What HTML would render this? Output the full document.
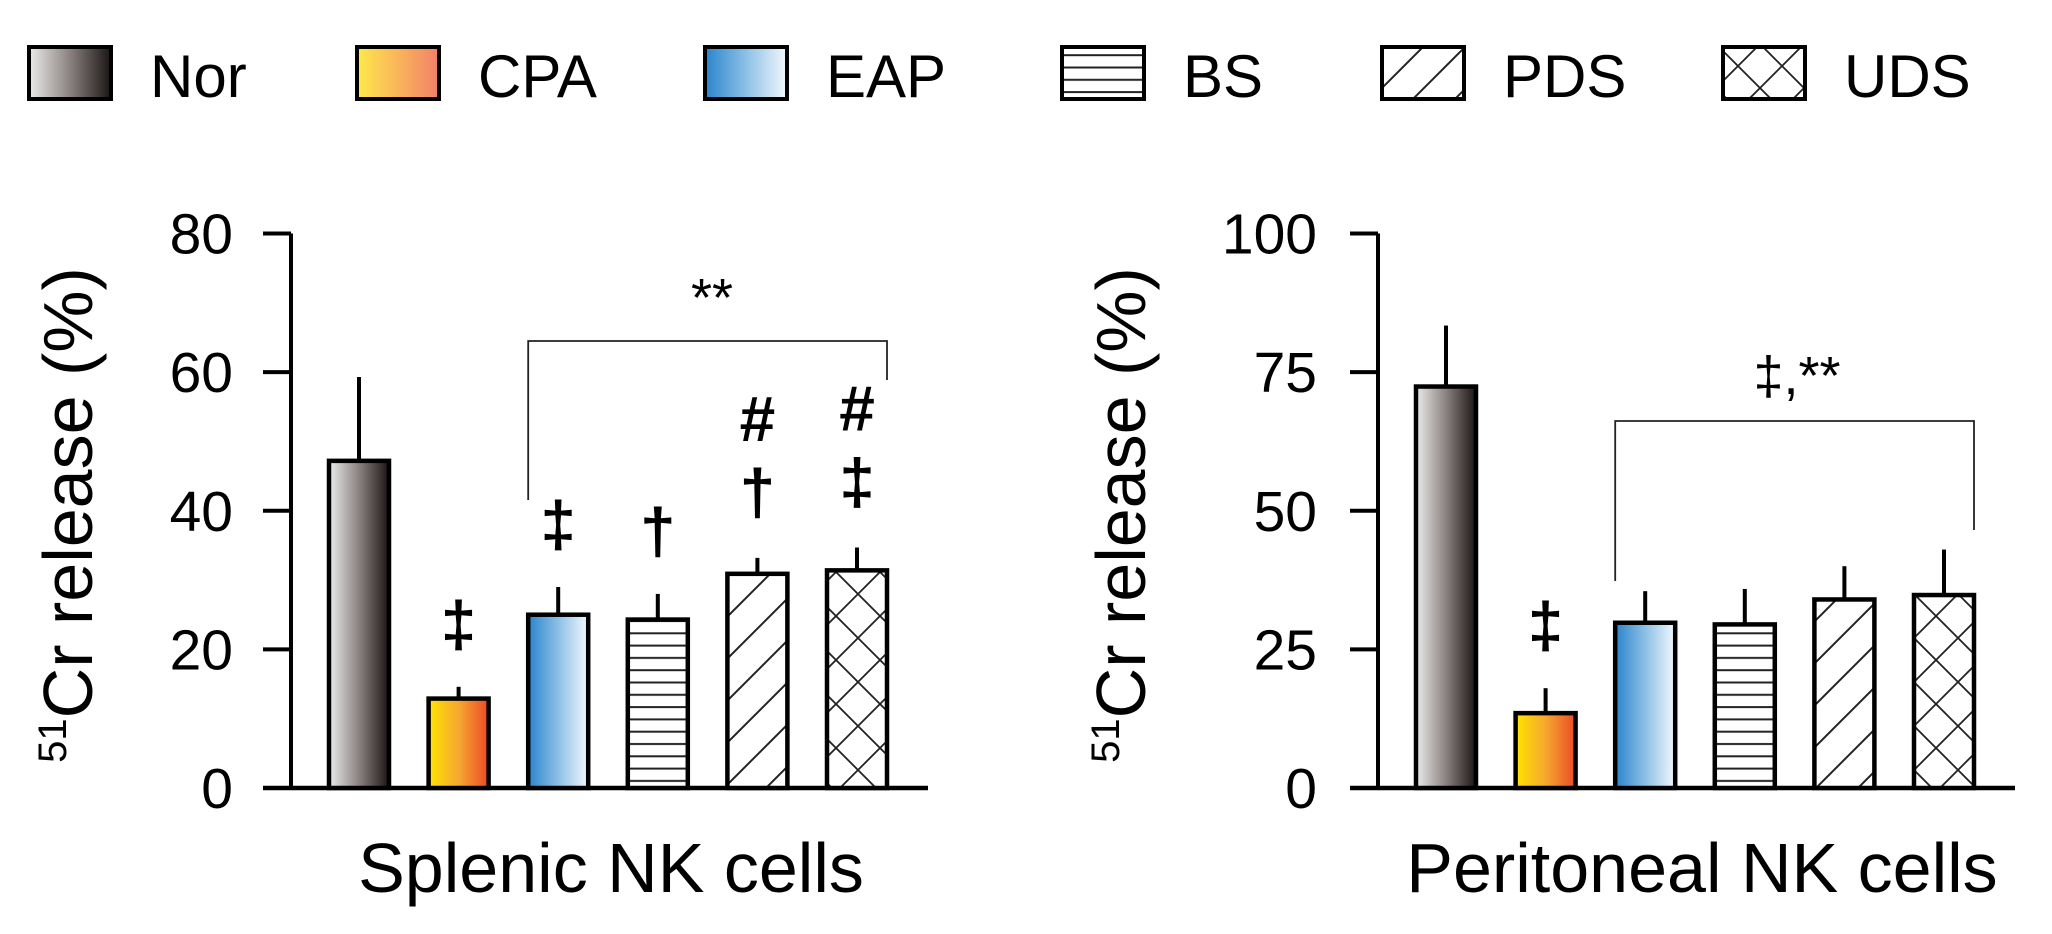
<!DOCTYPE html>
<html><head><meta charset="utf-8"><style>
html,body{margin:0;padding:0;background:#fff;}
svg{display:block;font-family:"Liberation Sans",Arial,sans-serif;}
</style></head><body>
<svg id="fig" width="2052" height="934" viewBox="0 0 2052 934" xmlns="http://www.w3.org/2000/svg">
<defs>
<linearGradient id="gNor" x1="0" x2="1" y1="0" y2="0"><stop offset="0" stop-color="#ececec"/><stop offset="0.5" stop-color="#8a8280"/><stop offset="1" stop-color="#1a1414"/></linearGradient>
<linearGradient id="gCPA" x1="0" x2="1" y1="0" y2="0"><stop offset="0" stop-color="#ffe400"/><stop offset="0.5" stop-color="#f5a830"/><stop offset="1" stop-color="#ec4a25"/></linearGradient>
<linearGradient id="gCPAl" x1="0" x2="1" y1="0" y2="0"><stop offset="0" stop-color="#ffe94a"/><stop offset="1" stop-color="#f3806a"/></linearGradient>
<linearGradient id="gEAP" x1="0" x2="1" y1="0" y2="0"><stop offset="0" stop-color="#2a84cc"/><stop offset="0.5" stop-color="#8cc0e6"/><stop offset="1" stop-color="#f2f8fd"/></linearGradient>
<pattern id="pBS" width="12.3" height="12.3" patternUnits="userSpaceOnUse"><rect width="12.3" height="12.3" fill="#fff"/><line x1="0" y1="6" x2="13" y2="6" stroke="#222" stroke-width="2"/></pattern>
<pattern id="pPDS" width="42" height="42" patternUnits="userSpaceOnUse"><rect width="42" height="42" fill="#fff"/><line x1="0" y1="42" x2="42" y2="0" stroke="#222" stroke-width="2"/><line x1="-10" y1="10" x2="10" y2="-10" stroke="#222" stroke-width="2"/><line x1="32" y1="52" x2="52" y2="32" stroke="#222" stroke-width="2"/></pattern>
<pattern id="pUDS" width="44" height="44" patternUnits="userSpaceOnUse"><rect width="44" height="44" fill="#fff"/><line x1="0" y1="44" x2="44" y2="0" stroke="#222" stroke-width="1.8"/><line x1="0" y1="0" x2="44" y2="44" stroke="#222" stroke-width="1.8"/></pattern>
</defs>
<g id="legend"></g>
<g id="chart1"></g>
<g id="chart2"></g>
</svg>
<script>
const groups = ["Nor","CPA","EAP","BS","PDS","UDS"];
const fills = ["url(#gNor)","url(#gCPA)","url(#gEAP)","url(#pBS)","url(#pPDS)","url(#pUDS)"];
const legendFills = ["url(#gNor)","url(#gCPAl)","url(#gEAP)","url(#pBS)","url(#pPDS)","url(#pUDS)"];
const splenicMeans = [47.2, 12.9, 25.0, 24.3, 30.9, 31.4];
const splenicErrs = [59.3, 14.6, 29.0, 28.0, 33.2, 34.7];
const splenicTicks = [0, 20, 40, 60, 80];
const splenicMarks = [[], ["‡"], ["‡"], ["†"], ["#","†"], ["#","‡"]];
const peritonealMeans = [72.4, 13.5, 29.8, 29.5, 34.0, 34.8];
const peritonealErrs = [83.4, 18.0, 35.5, 35.9, 40.0, 43.0];
const peritonealTicks = [0, 25, 50, 75, 100];
const peritonealMarks = [[], ["‡"], [], [], [], []];

const NS = "http://www.w3.org/2000/svg";
function mk(tag, attrs, parent, text){
  const e = document.createElementNS(NS, tag);
  for (const k in attrs) e.setAttribute(k, attrs[k]);
  if (text !== undefined) e.textContent = text;
  parent.appendChild(e); return e;
}

// legend
const lg = document.getElementById('legend');
const legX = [29, 357, 705, 1062, 1382, 1723];
groups.forEach((g, i) => {
  const r = mk('rect', {x: legX[i], y: 47, width: 82, height: 52, fill: legendFills[i], stroke: '#000', 'stroke-width': 4}, lg);
  
  
  const t = mk('text', {x: legX[i] + 121, y: 97, 'font-size': 60}, lg, g);
  
  
});

function drawChart(gid, cfg){
  const g = document.getElementById(gid);
  const y = v => cfg.y0 - (v / cfg.ymax) * (cfg.y0 - cfg.ytop);
  const cx = i => cfg.x0 + i * 99.6;
  const ya = mk('line', {x1: cfg.ax, y1: cfg.ytop, x2: cfg.ax, y2: cfg.y0, stroke: '#000', 'stroke-width': 4}, g);
   
  cfg.ticks.forEach(t => {
    const tl = mk('line', {x1: cfg.ax - 28, y1: y(t), x2: cfg.ax, y2: y(t), stroke: '#000', 'stroke-width': 4}, g);
     
    const tt = mk('text', {x: cfg.tlx, y: y(t) + 20, 'font-size': 57, 'text-anchor': 'end'}, g, String(t));
     
  });
  const xa = mk('line', {x1: cfg.ax - 28, y1: cfg.y0, x2: cfg.xend, y2: cfg.y0, stroke: '#000', 'stroke-width': 4.5}, g);
   
  cfg.means.forEach((m, i) => {
    const c = cx(i);
    const el = mk('line', {x1: c, y1: y(cfg.errs[i]), x2: c, y2: y(m), stroke: '#000', 'stroke-width': 4}, g);
     
    const b = mk('rect', {x: c - 30, y: y(m), width: 60, height: cfg.y0 - y(m), fill: fills[i], stroke: '#000', 'stroke-width': 4.5}, g);
     
    const n = cfg.marks[i].length;
    cfg.marks[i].forEach((s, k) => {
      const centre = (n === 1) ? y(cfg.errs[i]) - 58 : y(cfg.errs[i]) - 61 - (n - 1 - k) * 78;
      const off = (s === '#') ? 22 : 17;
      const st = mk('text', {x: c, y: centre + off, 'font-size': 64, 'font-weight': 'bold', 'text-anchor': 'middle'}, g, s);
       
    });
  });
  const l = cx(2) - 30, r = cx(5) + 30;
  const br = mk('path', {d: `M${l},${cfg.bl} V${cfg.bt} H${r} V${cfg.br}`, fill: 'none', stroke: '#222', 'stroke-width': 1.8}, g);
   
  const bt = mk('text', {x: cfg.btx, y: cfg.bty, 'font-size': 54, 'text-anchor': 'middle'}, g, cfg.btext);
   
  const yt = mk('text', {transform: `translate(${cfg.ytx},515) rotate(-90)`, 'font-size': 70, 'text-anchor': 'middle'}, g);
   
  mk('tspan', {'font-size': 40, dy: -26}, yt, '51');
  mk('tspan', {dy: 26}, yt, 'Cr release (%)');
  const xt = mk('text', {x: cfg.xtx, y: 892, 'font-size': 70, 'text-anchor': 'middle'}, g, cfg.xtitle);
   
}

drawChart('chart1', {ax: 291, tlx: 233, ytop: 233.5, y0: 788, ymax: 80, xend: 928, x0: 359, ticks: splenicTicks,
  means: splenicMeans, errs: splenicErrs, marks: splenicMarks, bt: 341, bl: 500, br: 380,
  btx: 712, bty: 316, btext: '**', ytx: 92, xtx: 611, xtitle: 'Splenic NK cells'});
drawChart('chart2', {ax: 1378, tlx: 1317, ytop: 233.5, y0: 788, ymax: 100, xend: 2015, x0: 1446, ticks: peritonealTicks,
  means: peritonealMeans, errs: peritonealErrs, marks: peritonealMarks, bt: 421, bl: 581, br: 530,
  btx: 1797, bty: 394, btext: '‡,**', ytx: 1145, xtx: 1702, xtitle: 'Peritoneal NK cells'});
</script>
</body></html>
